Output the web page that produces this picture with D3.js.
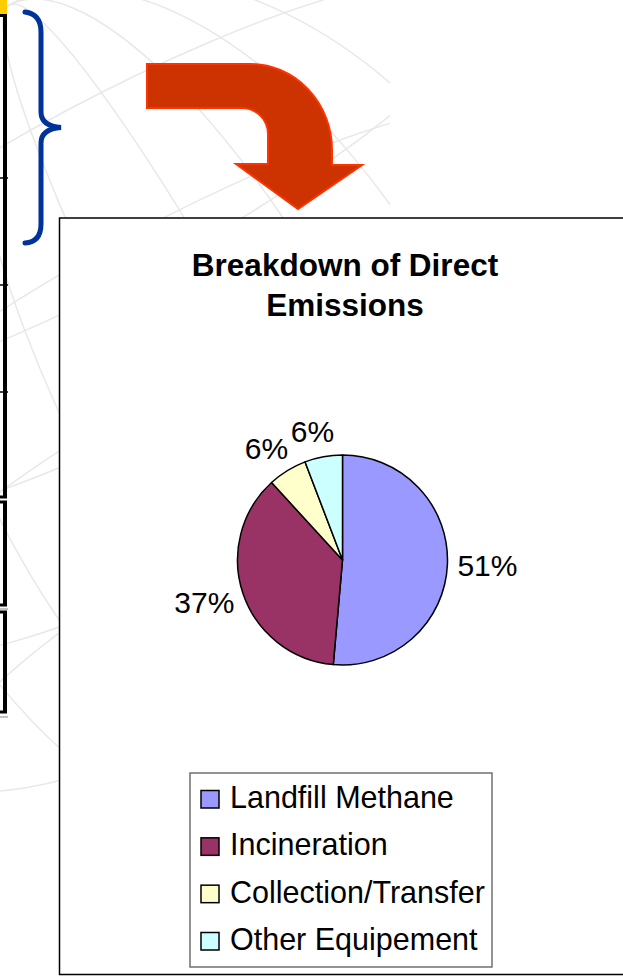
<!DOCTYPE html>
<html>
<head>
<meta charset="utf-8">
<script src="https://cdn.jsdelivr.net/npm/d3@7"></script>
<style>
  html, body { margin: 0; padding: 0; background: #fff; }
  svg { display: block; font-family: "Liberation Sans", Arial, sans-serif; }
</style>
</head>
<body>
<div id="chart"></div>
<script>
// Chart data
var categories = ["Landfill Methane", "Incineration", "Collection/Transfer", "Other Equipement"];
var shares = [51.4, 36.8, 6.0, 5.8];
var colors = ["#9999FF", "#993366", "#FFFFCC", "#CCFFFF"];
var title = ["Breakdown of Direct", "Emissions"];

var width = 623,
  height = 976;

var svg = d3.select("#chart").append("svg")
  .attr("width", width)
  .attr("height", height);

svg.append("clipPath").attr("id", "bgclip")
  .append("rect").attr("x", 0).attr("y", 0).attr("width", 390).attr("height", 920);

// Faint globe lines in the slide background
var bg = svg.append("g")
  .attr("clip-path", "url(#bgclip)")
  .attr("fill", "none")
  .attr("stroke", "#e8e8e8")
  .attr("stroke-width", 1.5);

[60, 150, 250, 340].forEach(function(rx) {
  bg.append("ellipse")
    .attr("cx", 230).attr("cy", 420)
    .attr("rx", rx).attr("ry", 470)
    .attr("transform", "rotate(-28,230,420)");
});
[-260, -120, 30, 180].forEach(function(off) {
  bg.append("ellipse")
    .attr("cx", 230).attr("cy", 420 + off)
    .attr("rx", 420).attr("ry", 90)
    .attr("transform", "rotate(-28,230,420)");
});

// Edge of the table on the left of the slide
var tbl = svg.append("g");
tbl.append("rect").attr("x", 0).attr("y", 0).attr("width", 7).attr("height", 14).attr("fill", "#FFCC00");
[[15, 497], [502, 605], [612, 712]].forEach(function(s) {
  tbl.append("line").attr("x1", 5).attr("x2", 5).attr("y1", s[0]).attr("y2", s[1])
    .attr("stroke", "#000").attr("stroke-width", 4);
});
[15.5, 497, 502, 605, 612, 712].forEach(function(y) {
  tbl.append("line").attr("x1", 0).attr("x2", 7).attr("y1", y).attr("y2", y)
    .attr("stroke", "#000").attr("stroke-width", 3);
});
[178, 285, 392].forEach(function(y) {
  tbl.append("line").attr("x1", 0).attr("x2", 8).attr("y1", y).attr("y2", y)
    .attr("stroke", "#000").attr("stroke-width", 1.5);
});
[609, 717].forEach(function(y) {
  tbl.append("line").attr("x1", 0).attr("x2", 8).attr("y1", y).attr("y2", y)
    .attr("stroke", "#888").attr("stroke-width", 1);
});

// Blue brace
svg.append("path")
  .attr("d", "M25,12 Q41,14 41,32 L41,112 Q41,126 61,127.5 Q41,129 41,143 L41,224 Q41,242 25,243")
  .attr("fill", "none")
  .attr("stroke", "#003399")
  .attr("stroke-width", 5)
  .attr("stroke-linecap", "round");

// Bent red arrow
svg.append("path")
  .attr("d", "M147,64 L250,64 A82,86 0 0 1 332,150 L332,165 L362,165 L298,209 L236,164 L268,164 " +
    "L268,134 A26,26 0 0 0 242,108 L147,108 Z")
  .attr("fill", "#CC3300")
  .attr("stroke", "#FF3300")
  .attr("stroke-width", 2)
  .attr("stroke-linejoin", "miter");

// Chart area
svg.append("rect")
  .attr("x", 59.5).attr("y", 218)
  .attr("width", 620).attr("height", 756.5)
  .attr("fill", "#fff")
  .attr("stroke", "#000")
  .attr("stroke-width", 1.5);

svg.append("text")
  .attr("text-anchor", "middle")
  .attr("font-weight", "bold")
  .attr("font-size", 31.5)
  .selectAll("tspan")
  .data(title)
  .join("tspan")
  .attr("x", 345)
  .attr("y", function(d, i) { return 276 + i * 40; })
  .text(function(d) { return d; });

// Pie
var cx = 342.5,
  cy = 560,
  radius = 105,
  labelGap = 10;

var pie = d3.pie().sort(null).value(function(d) { return d; });
var arcs = pie(shares);

var arc = d3.arc().innerRadius(0).outerRadius(radius);

var color = d3.scaleOrdinal().domain(categories).range(colors);

var g = svg.append("g").attr("transform", "translate(" + cx + "," + cy + ")");

g.selectAll("path.slice")
  .data(arcs)
  .join("path")
  .attr("class", "slice")
  .attr("d", arc)
  .attr("fill", function(d, i) { return color(categories[i]); })
  .attr("stroke", "#000")
  .attr("stroke-width", 1.5)
  .attr("stroke-linejoin", "round");

// labels sit just outside the rim, pushed out by their box along the mid-angle
g.selectAll("text.pct")
  .data(arcs)
  .join("text")
  .attr("class", "pct")
  .attr("text-anchor", "middle")
  .attr("dy", "0.35em")
  .attr("font-size", 30)
  .text(function(d) { return Math.round(d.value) + "%"; })
  .attr("transform", function(d) {
    var a = (d.startAngle + d.endAngle) / 2,
      dx = Math.sin(a),
      dy = -Math.cos(a),
      w = this.getComputedTextLength() / 2,
      r = radius + labelGap,
      x = dx * r + Math.sign(dx) * w * Math.sqrt(Math.abs(dx)),
      y = dy * (r + 16);
    return "translate(" + x + "," + y + ")";
  });

// Legend
var legend = svg.append("g");
legend.append("rect")
  .attr("x", 190).attr("y", 773)
  .attr("width", 302).attr("height", 194)
  .attr("fill", "#fff")
  .attr("stroke", "#707070")
  .attr("stroke-width", 1.5);

var rowY = d3.scalePoint().domain(categories).range([808, 950]);

var item = legend.selectAll("g.item")
  .data(categories)
  .join("g")
  .attr("class", "item")
  .attr("transform", function(d) { return "translate(0," + rowY(d) + ")"; });

item.append("rect")
  .attr("x", 201).attr("y", -17.5)
  .attr("width", 18).attr("height", 17.5)
  .attr("fill", function(d) { return color(d); })
  .attr("stroke", "#000")
  .attr("stroke-width", 1.5);

item.append("text")
  .attr("x", 230)
  .attr("font-size", 30.5)
  .text(function(d) { return d; });
</script>
</body>
</html>
